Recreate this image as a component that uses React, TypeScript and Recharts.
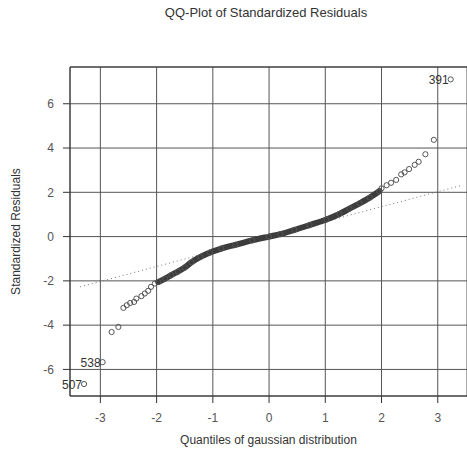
import React from 'react';
import {
  ScatterChart,
  Scatter,
  XAxis,
  YAxis,
  CartesianGrid,
  ReferenceLine,
  LabelList,
} from 'recharts';

// ticks
const xTicks = [-3, -2, -1, 0, 1, 2, 3];
const yTicks = [-6, -4, -2, 0, 2, 4, 6];

// lower tail (individual open circles)
const lowerTail = [
  { x: -2.8, y: -4.31 },
  { x: -2.68, y: -4.08 },
  { x: -2.59, y: -3.22 },
  { x: -2.53, y: -3.1 },
  { x: -2.47, y: -3.0 },
  { x: -2.4, y: -2.95 },
  { x: -2.36, y: -2.8 },
  { x: -2.27, y: -2.69 },
  { x: -2.21, y: -2.57 },
  { x: -2.15, y: -2.45 },
  { x: -2.1, y: -2.27 },
  { x: -2.03, y: -2.12 },
];

// dense middle part, where the circles merge into one band
const denseBand = [
  { x: -1.97, y: -2.05 },
  { x: -1.85, y: -1.9 },
  { x: -1.74, y: -1.74 },
  { x: -1.62, y: -1.58 },
  { x: -1.5, y: -1.4 },
  { x: -1.38, y: -1.16 },
  { x: -1.22, y: -0.92 },
  { x: -1.05, y: -0.72 },
  { x: -0.85, y: -0.54 },
  { x: -0.6, y: -0.37 },
  { x: -0.3, y: -0.17 },
  { x: 0.0, y: 0.0 },
  { x: 0.2, y: 0.11 },
  { x: 0.45, y: 0.3 },
  { x: 0.72, y: 0.52 },
  { x: 1.02, y: 0.77 },
  { x: 1.25, y: 1.02 },
  { x: 1.43, y: 1.26 },
  { x: 1.61, y: 1.5 },
  { x: 1.79, y: 1.76 },
  { x: 1.96, y: 2.05 },
];

// upper tail
const upperTail = [
  { x: 2.0, y: 2.18 },
  { x: 2.09, y: 2.32 },
  { x: 2.17, y: 2.43 },
  { x: 2.26, y: 2.56 },
  { x: 2.35, y: 2.81 },
  { x: 2.41, y: 2.9 },
  { x: 2.49, y: 3.05 },
  { x: 2.59, y: 3.24 },
  { x: 2.66, y: 3.38 },
  { x: 2.78, y: 3.72 },
  { x: 2.93, y: 4.37 },
];

// labelled outliers
const outliers = [
  { x: -3.29, y: -6.66, name: '507' },
  { x: -2.96, y: -5.67, name: '538' },
  { x: 3.23, y: 7.1, name: '391' },
];

// dotted reference line endpoints
const refLine = [
  { x: -3.36, y: -2.27 },
  { x: 3.42, y: 2.31 },
];

const xDomain = [-3.54, 3.52];
const yDomain = [-7.2, 7.66];

const openCircle = (props: any) => (
  <circle cx={props.cx} cy={props.cy} r={2.6} fill="none" stroke="#555" strokeWidth={1} />
);

const OutlierLabel = (props: any) => {
  const { x, y, width, height, value } = props;
  const cx = x + (width || 0) / 2;
  const cy = y + (height || 0) / 2;
  return (
    <text x={cx - 2} y={cy + 5} textAnchor="end" fontSize={12} fill="#333" fontFamily="Liberation Sans, Arial, sans-serif">
      {value}
    </text>
  );
};

export default function App() {
  const font = 'Liberation Sans, Arial, sans-serif';
  return (
    <div style={{ position: 'fixed', left: 0, top: 0, width: 467, height: 449, background: '#fff', fontFamily: font }}>
      <div
        style={{
          position: 'absolute',
          top: 5,
          left: 266,
          transform: 'translateX(-50%)',
          whiteSpace: 'nowrap',
          fontSize: 13,
          lineHeight: '16px',
          color: '#333',
        }}
      >
        QQ-Plot of Standardized Residuals
      </div>
      <ScatterChart width={467} height={449} margin={{ top: 67, right: 0, bottom: 0, left: 0 }}>
        <CartesianGrid stroke="#555" strokeWidth={1} />
        <XAxis
          type="number"
          dataKey="x"
          domain={xDomain}
          ticks={xTicks}
          allowDataOverflow
          height={53}
          tickSize={7}
          tickMargin={10}
          stroke="#333"
          tick={{ fill: '#555', fontSize: 12, fontFamily: font }}
          label={{ value: 'Quantiles of gaussian distribution', position: 'insideBottom', offset: 5, fill: '#333', fontSize: 12, fontFamily: font }}
        />
        <YAxis
          type="number"
          dataKey="y"
          domain={yDomain}
          ticks={yTicks}
          allowDataOverflow
          width={70}
          tickSize={7}
          tickMargin={9}
          stroke="#333"
          tick={{ fill: '#555', fontSize: 12, fontFamily: font }}
          label={{ value: 'Standardized Residuals', angle: -90, position: 'insideLeft', offset: 20, dx: -4, style: { textAnchor: 'middle' }, fill: '#333', fontSize: 12, fontFamily: font }}
        />
        <ReferenceLine y={yDomain[1]} stroke="#333" />
        <ReferenceLine
          segment={[refLine[0], refLine[1]]}
          stroke="#777"
          strokeDasharray="1 3"
          strokeWidth={1}
        />
        <Scatter data={lowerTail} shape={openCircle} isAnimationActive={false} />
        <Scatter
          data={denseBand}
          line={{ stroke: '#3c3c3c', strokeWidth: 6, strokeLinecap: 'round' }}
          lineJointType="monotoneX"
          shape={openCircle}
          isAnimationActive={false}
        />
        <Scatter data={upperTail} shape={openCircle} isAnimationActive={false} />
        <Scatter data={outliers} shape={openCircle} isAnimationActive={false}>
          <LabelList dataKey="name" content={OutlierLabel} />
        </Scatter>
      </ScatterChart>
    </div>
  );
}
